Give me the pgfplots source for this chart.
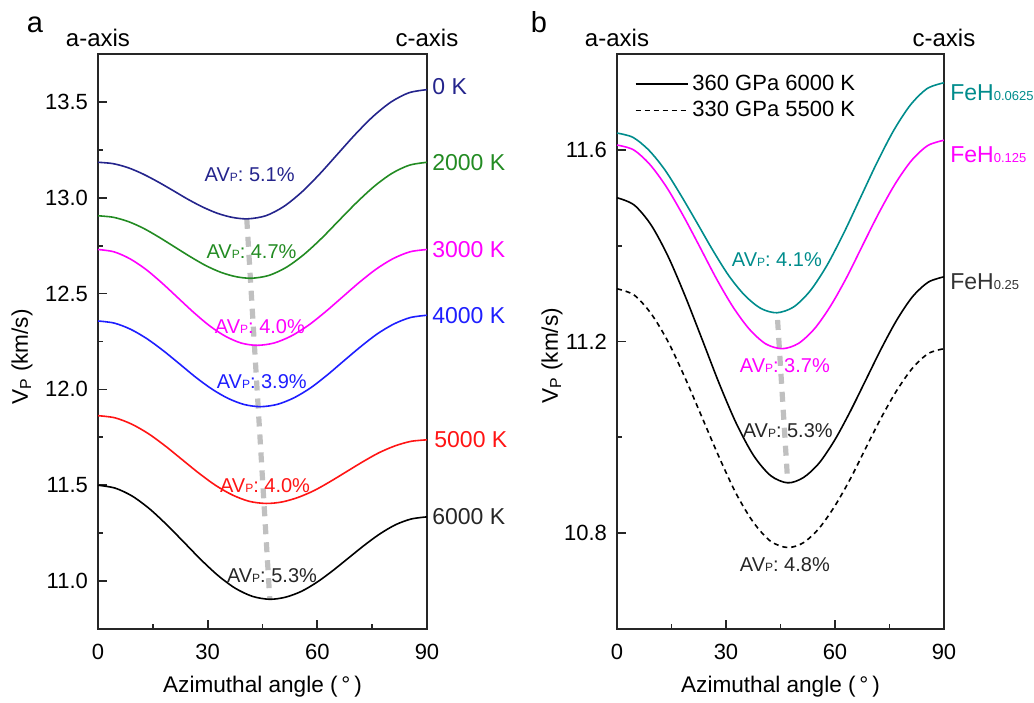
\documentclass[border=0pt]{standalone}
\usepackage{fontspec}
\setmainfont{Liberation Sans}
\usepackage{pgfplots}
\pgfplotsset{compat=1.18}

\definecolor{navyc}{RGB}{36,36,140}
\definecolor{greenc}{RGB}{34,139,34}
\definecolor{magc}{RGB}{255,0,255}
\definecolor{bluec}{RGB}{30,30,255}
\definecolor{redc}{RGB}{255,20,20}
\definecolor{tealc}{RGB}{0,140,140}
\definecolor{grayd}{RGB}{192,192,192}

\newcommand{\avP}{AV{\fontsize{6}{7}\selectfont P}}
\newcommand{\sub}[1]{{\fontsize{6.5}{7}\selectfont #1}}

\pgfplotsset{
  vpax/.style={
    scale only axis, width=164.5pt, height=287.5pt,
    xmin=0, xmax=90, xtick={0,30,60,90},
    minor x tick num=1, minor y tick num=1,
    xtick pos=left, ytick pos=left, tick align=inside,
    major tick length=4.5pt, minor tick length=2.5pt,
    axis line style={line width=1.1pt, black!85},
    tick style={line width=0.9pt, black!85},
    clip=false,
    tick label style={font=\fontsize{11}{13}\selectfont},
    /pgf/number format/assume math mode=true,
    xticklabel style={yshift=-4pt},
    yticklabel style={xshift=-1.5pt, /pgf/number format/fixed,
      /pgf/number format/fixed zerofill, /pgf/number format/precision=1},
    label style={font=\fontsize{11.3}{13}\selectfont},
    xlabel={Azimuthal angle (\,°\,)},
    xlabel style={at={(axis description cs:0.5,-0.111)}, anchor=base},
    ylabel={V\textsubscript{P} (km/s)},
  },
}
\tikzset{
  curve/.style={smooth, line width=0.8pt},
  guide/.style={grayd, line width=2.6pt, dash pattern=on 5pt off 4pt},
  avlab/.style={font=\fontsize{10}{12}\selectfont, inner sep=0pt},
  endlab/.style={anchor=west, inner sep=0pt, xshift=2.5pt, font=\fontsize{11.5}{13}\selectfont},
  toplab/.style={anchor=base, yshift=3.5pt, font=\fontsize{12}{14}\selectfont},
  panlab/.style={anchor=base, yshift=10.5pt, font=\fontsize{14.5}{16}\selectfont},
}

\begin{document}
\begin{tikzpicture}
\useasboundingbox (-49pt,-36.5pt) rectangle (468pt,314.5pt);

% ---- panel a ----
\begin{axis}[vpax, at={(0,0)}, anchor=south west,
  ymin=10.75, ymax=13.75, ytick={11.0,11.5,12.0,12.5,13.0,13.5},
  ylabel style={at={(axis description cs:-0.231,0.473)}, anchor=center}]
\addplot[guide] coordinates {(40.7,12.89) (47,10.905)};
% 0 K
\addplot[curve, navyc] coordinates {
(0,13.185) (4.1,13.178) (8.2,13.157) (12.3,13.124) (16.4,13.083) (20.5,13.038)
(24.6,12.992) (28.7,12.951) (32.8,12.918) (36.9,12.897) (41,12.890)
(45.9,12.906) (50.8,12.954) (55.7,13.029) (60.6,13.123) (65.5,13.227)
(70.4,13.331) (75.3,13.425) (80.2,13.500) (85.1,13.548) (90,13.564)};
% 2000 K
\addplot[curve, greenc] coordinates {
(0,12.906) (4.2,12.898) (8.4,12.875) (12.6,12.839) (16.8,12.793) (21,12.743)
(25.2,12.693) (29.4,12.647) (33.6,12.611) (37.8,12.588) (42,12.580)
(46.8,12.595) (51.6,12.638) (56.4,12.705) (61.2,12.789) (66,12.883)
(70.8,12.976) (75.6,13.060) (80.4,13.127) (85.2,13.170) (90,13.185)};
% 3000 K
\addplot[curve, magc] coordinates {
(0,12.730) (4.35,12.718) (8.7,12.682) (13.05,12.627) (17.4,12.557) (21.75,12.480)
(26.1,12.403) (30.45,12.333) (34.8,12.278) (39.15,12.242) (43.5,12.230)
(48.15,12.242) (52.8,12.278) (57.45,12.333) (62.1,12.403) (66.75,12.480)
(71.4,12.557) (76.05,12.627) (80.7,12.682) (85.35,12.718) (90,12.730)};
% 4000 K
\addplot[curve, bluec] coordinates {
(0,12.357) (4.45,12.346) (8.9,12.314) (13.35,12.265) (17.8,12.203) (22.25,12.134)
(26.7,12.064) (31.15,12.002) (35.6,11.953) (40.05,11.921) (44.5,11.910)
(49.05,11.922) (53.6,11.956) (58.15,12.008) (62.7,12.075) (67.25,12.149)
(71.8,12.222) (76.35,12.289) (80.9,12.341) (85.45,12.375) (90,12.387)};
% 5000 K
\addplot[curve, redc] coordinates {
(0,11.863) (4.6,11.852) (9.2,11.819) (13.8,11.769) (18.4,11.705) (23,11.634)
(27.6,11.563) (32.2,11.499) (36.8,11.449) (41.4,11.416) (46,11.405)
(50.4,11.413) (54.8,11.437) (59.2,11.473) (63.6,11.520) (68,11.571)
(72.4,11.622) (76.8,11.669) (81.2,11.705) (85.6,11.729) (90,11.737)};
% 6000 K
\addplot[curve, black] coordinates {
(0,11.500) (4.7,11.485) (9.4,11.443) (14.1,11.377) (18.8,11.294) (23.5,11.203)
(28.2,11.111) (32.9,11.028) (37.6,10.962) (42.3,10.920) (47,10.905)
(51.3,10.916) (55.6,10.946) (59.9,10.994) (64.2,11.054) (68.5,11.120)
(72.8,11.186) (77.1,11.246) (81.4,11.294) (85.7,11.324) (90,11.335)};

\node[avlab, navyc]  at (axis cs:41.5,13.12) {\avP: 5.1\%};
\node[avlab, greenc] at (axis cs:42,12.72)   {\avP: 4.7\%};
\node[avlab, magc]   at (axis cs:44.3,12.33) {\avP: 4.0\%};
\node[avlab, bluec]  at (axis cs:44.8,12.04) {\avP: 3.9\%};
\node[avlab, redc]   at (axis cs:45.7,11.50) {\avP: 4.0\%};
\node[avlab, black!85] at (axis cs:47.6,11.03) {\avP: 5.3\%};

\node[endlab, navyc]  at (axis cs:90,13.58)  {0 K};
\node[endlab, greenc] at (axis cs:90,13.185) {2000 K};
\node[endlab, magc]   at (axis cs:90,12.73)  {3000 K};
\node[endlab, bluec]  at (axis cs:90,12.387) {4000 K};
\node[endlab, redc, xshift=1pt] at (axis cs:90,11.737) {5000 K};
\node[endlab, black!85] at (axis cs:90,11.335) {6000 K};

\node[toplab] at (rel axis cs:0,1) {a-axis};
\node[toplab] at (rel axis cs:1,1) {c-axis};
\node[panlab, xshift=-31.5pt] at (rel axis cs:0,1) {a};
\end{axis}

% ---- panel b ----
\begin{axis}[vpax, at={(259.5pt,0)}, anchor=south west,
  width=163.5pt,
  ymin=10.6, ymax=11.8, ytick={10.8,11.2,11.6},
  ylabel style={at={(axis description cs:-0.199,0.475)}, anchor=center},
  legend cell align=left,
  legend style={draw=none, fill=none, at={(0.035,0.978)}, anchor=north west,
    font=\fontsize{11}{13}\selectfont, row sep=0pt},
  legend image code/.code={\draw[#1] (0pt,0pt) -- (26pt,0pt);},
  legend entries={360 GPa 6000 K, 330 GPa 5500 K}]
\addlegendimage{black, line width=0.8pt}
\addlegendimage{black, line width=0.8pt, dash pattern=on 2.5pt off 2pt}
\addplot[guide, forget plot] coordinates {(44.2,11.245) (47,10.905)};
% FeH0.0625
\addplot[curve, tealc, forget plot] coordinates {
(0,11.635) (4.4,11.626) (8.8,11.599) (13.2,11.558) (17.6,11.505) (22,11.448)
(26.4,11.390) (30.8,11.337) (35.2,11.296) (39.6,11.269) (44,11.260)
(48.6,11.272) (53.2,11.306) (57.8,11.359) (62.4,11.426) (67,11.500)
(71.6,11.574) (76.2,11.641) (80.8,11.694) (85.4,11.728) (90,11.740)};
% FeH0.125
\addplot[curve, magc, forget plot] coordinates {
(0,11.610) (4.55,11.600) (9.1,11.569) (13.65,11.522) (18.2,11.463) (22.75,11.398)
(27.3,11.332) (31.85,11.273) (36.4,11.226) (40.95,11.195) (45.5,11.185)
(49.95,11.196) (54.4,11.227) (58.85,11.275) (63.3,11.335) (67.75,11.403)
(72.2,11.470) (76.65,11.530) (81.1,11.578) (85.55,11.609) (90,11.620)};
% FeH0.25, 360 GPa 6000 K
\addplot[curve, black, forget plot] coordinates {
(0,11.500) (4.7,11.485) (9.4,11.443) (14.1,11.377) (18.8,11.294) (23.5,11.203)
(28.2,11.111) (32.9,11.028) (37.6,10.962) (42.3,10.920) (47,10.905)
(51.3,10.916) (55.6,10.946) (59.9,10.994) (64.2,11.054) (68.5,11.120)
(72.8,11.186) (77.1,11.246) (81.4,11.294) (85.7,11.324) (90,11.335)};
% FeH0.25, 330 GPa 5500 K
\addplot[curve, black, dash pattern=on 2.5pt off 2pt, forget plot] coordinates {
(0,11.310) (4.7,11.297) (9.4,11.258) (14.1,11.199) (18.8,11.123) (23.5,11.040)
(28.2,10.957) (32.9,10.881) (37.6,10.822) (42.3,10.783) (47,10.770)
(51.3,10.780) (55.6,10.810) (59.9,10.856) (64.2,10.913) (68.5,10.978)
(72.8,11.042) (77.1,11.099) (81.4,11.145) (85.7,11.175) (90,11.185)};

\node[avlab, tealc]    at (axis cs:44,11.37)    {\avP: 4.1\%};
\node[avlab, magc]     at (axis cs:46.2,11.15)  {\avP: 3.7\%};
\node[avlab, black!85] at (axis cs:47,11.015)   {\avP: 5.3\%};
\node[avlab, black!85] at (axis cs:46.2,10.735) {\avP: 4.8\%};

\node[endlab, tealc, xshift=0.5pt] at (axis cs:90,11.72)  {FeH\sub{0.0625}};
\node[endlab, magc, xshift=0.5pt]  at (axis cs:90,11.59)  {FeH\sub{0.125}};
\node[endlab, black!80, xshift=0.5pt] at (axis cs:90,11.325) {FeH\sub{0.25}};

\node[toplab] at (rel axis cs:0,1) {a-axis};
\node[toplab] at (rel axis cs:1,1) {c-axis};
\node[panlab, xshift=-39pt] at (rel axis cs:0,1) {b};
\end{axis}
\end{tikzpicture}
\end{document}
